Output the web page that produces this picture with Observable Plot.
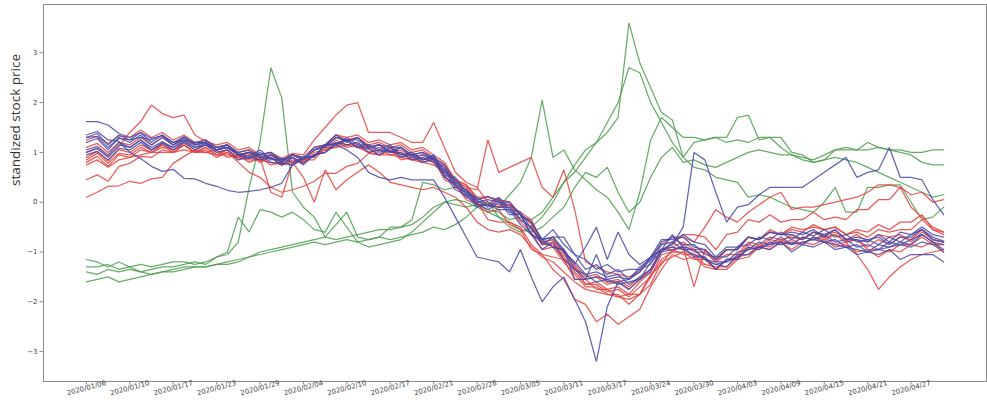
<!DOCTYPE html>
<html>
<head>
<meta charset="utf-8">
<script src="https://cdn.jsdelivr.net/npm/d3@7"></script>
<script src="https://cdn.jsdelivr.net/npm/@observablehq/plot@0.6"></script>
<style>
  html, body { margin: 0; padding: 0; background: #fff; }
  #chart svg { display: block; }
</style>
</head>
<body>
<div id="chart"></div>
<script>
// Tick labels: one every four trading days, starting at index 0
const tickDates = [
  "2020/01/06","2020/01/10","2020/01/17","2020/01/23","2020/01/29",
  "2020/02/04","2020/02/10","2020/02/17","2020/02/21","2020/02/28",
  "2020/03/05","2020/03/11","2020/03/17","2020/03/24","2020/03/30",
  "2020/04/03","2020/04/09","2020/04/15","2020/04/21","2020/04/27"
];
const tickEvery = 4;
const yTicks = [-3, -2, -1, 0, 1, 2, 3];

// Standardized prices, 80 trading days each
const blue1 = [
  1.62,1.62,1.55,1.38,1.3,1.4,1.28,1.33,
  1.2,1.32,1.18,1.25,1.1,1.15,0.98,0.92,
  1.05,0.88,0.82,0.95,0.86,1.05,1.12,1.3,
  1.22,1.3,1.1,1.16,1.02,1.1,0.95,1.0,
  0.9,0.75,0.4,0.25,0.05,0.12,0.0,-0.05,
  -0.25,-0.4,-0.75,-0.55,-0.85,-1.05,-1.35,-1.25,
  -1.45,-1.35,-1.55,-1.3,-1.15,-0.8,-0.7,-0.85,
  -0.85,-1.05,-1.1,-1.1,-0.9,-0.85,-0.7,-0.75,
  -0.6,-0.75,-0.6,-0.68,-0.55,-0.7,-0.65,-0.8,
  -0.75,-0.85,-0.7,-0.8,-0.65,-0.55,-0.7,-0.78
];
const blue2 = [
  1.35,1.42,1.25,1.22,1.0,0.88,0.72,0.62,
  0.66,0.48,0.47,0.38,0.32,0.24,0.2,0.22,
  0.25,0.3,0.38,0.75,0.9,0.92,1.15,1.18,
  1.25,1.1,1.08,0.95,1.1,0.9,0.95,0.8,
  0.88,0.5,0.38,0.1,-0.02,-0.15,0.0,-0.25,
  -0.25,-0.65,-0.8,-0.9,-0.95,-1.35,-1.45,-1.6,
  -1.55,-1.65,-1.6,-1.55,-1.2,-1.0,-0.8,-0.95,
  -0.95,-1.15,-1.2,-1.2,-1.0,-0.95,-0.8,-0.85,
  -0.7,-0.85,-0.7,-0.75,-0.65,-0.8,-0.75,-0.9,
  -0.85,-0.95,-0.8,-0.85,-0.75,-0.65,-0.8,-0.95
];
const blue3 = [
  1.3,1.38,1.15,1.35,1.25,1.4,1.2,1.35,
  1.15,1.3,1.15,1.2,1.05,1.1,0.95,1.0,
  0.9,0.95,0.85,0.9,0.75,0.95,1.0,1.15,
  1.05,0.9,0.6,0.5,0.45,0.5,0.45,0.45,
  0.45,0.1,-0.3,-0.7,-1.1,-1.15,-1.2,-1.4,
  -0.95,-1.5,-2.0,-1.7,-1.5,-1.95,-2.4,-3.2,
  -2.1,-1.6,-1.55,-1.4,-1.15,-0.95,-0.9,-0.95,
  -1.05,-1.15,-1.25,-1.2,-1.1,-0.95,-0.9,-0.85,
  -0.8,-0.85,-0.8,-0.75,-0.8,-0.85,-0.9,-0.95,
  -1.0,-0.95,-0.9,-0.85,-0.9,-0.8,-0.85,-1.0
];
const blue4 = [
  1.05,1.12,0.95,1.2,1.1,1.25,1.05,1.2,
  1.05,1.2,1.05,1.15,1.0,1.05,0.85,0.9,
  0.85,0.9,0.75,0.9,0.78,0.95,1.0,1.2,
  1.15,1.2,1.0,1.05,1.0,1.0,0.85,0.9,
  0.8,0.55,0.25,0.15,-0.1,-0.05,-0.1,-0.1,
  -0.35,-0.5,-0.85,-0.7,-1.0,-1.2,-1.45,-1.4,
  -1.5,-1.45,-1.65,-1.5,-1.35,-0.95,-0.85,-0.5,
  1.0,0.85,0.2,-0.4,-0.1,-0.05,0.15,0.3,
  0.3,0.3,0.3,0.45,0.6,0.75,0.9,0.5,
  0.6,0.65,1.1,0.5,0.5,0.45,0.05,-0.25
];
const blue5 = [
  0.95,1.02,0.85,1.08,1.05,1.2,1.05,1.18,
  1.1,1.25,1.1,1.15,1.05,1.1,0.95,0.88,
  0.95,0.8,0.78,0.75,0.9,0.92,1.15,1.15,
  1.3,1.15,1.15,1.05,1.15,0.95,1.0,0.85,
  0.95,0.6,0.5,0.2,0.1,-0.05,0.1,-0.15,
  -0.2,-0.55,-0.75,-0.7,-0.7,-1.05,-1.15,-1.35,
  -1.25,-1.4,-1.35,-1.35,-1.1,-0.95,-0.65,-0.9,
  -0.95,-1.15,-1.25,-1.3,-1.05,-1.05,-0.9,-0.95,
  -0.8,-1.0,-0.85,-0.9,-0.8,-0.95,-0.9,-1.05,
  -1.0,-1.05,-0.95,-1.15,-1.05,-1.05,-1.05,-1.2
];
const blue6 = [
  1.2,1.28,1.05,1.3,1.2,1.35,1.15,1.3,
  1.15,1.3,1.15,1.2,1.1,1.15,0.95,1.0,
  0.95,1.0,0.85,0.95,0.85,1.05,1.1,1.3,
  1.25,1.25,1.1,1.15,1.1,1.1,0.95,1.0,
  0.85,0.7,0.35,0.25,0.0,0.05,0.0,0.0,
  -0.25,-0.4,-0.75,-0.7,-0.95,-1.25,-0.9,-0.5,
  -1.15,-0.6,-1.05,-1.25,-1.1,-0.75,-0.75,-0.7,
  -0.9,-0.95,-1.15,-0.95,-0.95,-0.7,-0.75,-0.6,
  -0.65,-0.6,-0.65,-0.55,-0.7,-0.55,-0.75,-0.75,
  -0.8,-0.65,-0.8,-0.6,-0.65,-0.5,-0.65,-0.7
];
const blue7 = [
  1.0,1.08,0.9,1.15,1.1,1.25,1.1,1.22,
  1.1,1.22,1.1,1.18,1.05,1.1,0.95,0.88,
  1.0,0.85,0.88,0.8,0.9,0.9,1.15,1.15,
  1.25,1.1,1.15,1.0,1.1,0.95,0.95,0.85,
  0.9,0.55,0.45,0.15,0.05,-0.1,0.05,-0.2,
  -0.25,-0.65,-0.75,-0.9,-0.95,-1.55,-1.55,-1.05,
  -1.6,-1.6,-1.75,-1.55,-1.4,-1.0,-0.95,-0.9,
  -1.1,-1.1,-1.35,-1.15,-1.15,-0.9,-0.95,-0.8,
  -0.85,-0.8,-0.85,-0.7,-0.8,-0.75,-0.9,-0.85,
  -1.0,-0.85,-0.9,-0.8,-0.85,-0.65,-0.8,-0.85
];
const blue8 = [
  1.3,1.32,1.1,1.28,1.25,1.3,1.25,1.35,
  1.2,1.25,1.2,1.2,1.05,1.15,1.0,1.05,
  0.9,0.95,0.8,0.95,0.9,1.1,1.15,1.35,
  1.2,1.3,1.1,1.15,1.0,1.1,0.9,0.95,
  0.85,0.65,0.3,0.2,-0.05,-0.05,-0.15,-0.15,
  -0.45,-0.65,-0.95,-0.8,-1.15,-1.35,-1.55,-1.5,
  -1.55,-1.5,-1.55,-1.35,-1.25,-0.85,-0.8,-0.65,
  -0.8,-0.85,-1.1,-0.9,-0.9,-0.7,-0.75,-0.6,
  -0.65,-0.65,-0.75,-0.6,-0.65,-0.55,-0.75,-0.7,
  -0.75,-0.7,-0.85,-0.7,-0.7,-0.55,-0.75,-0.8
];

const red1 = [
  0.1,0.2,0.32,0.33,0.42,0.38,0.47,0.5,
  0.78,0.92,1.05,1.0,1.05,0.9,0.95,0.8,
  0.9,0.75,0.8,0.75,0.85,0.85,1.1,1.1,
  1.25,1.1,1.1,0.95,1.05,0.85,0.9,0.8,
  0.85,0.45,0.35,0.05,-0.05,-0.2,-0.15,-0.45,
  -0.55,-0.95,-1.05,-1.1,-1.15,-1.55,-1.55,-1.75,
  -1.75,-1.9,-1.85,-1.85,-1.45,-1.25,-0.95,-1.05,
  -1.05,-1.25,-1.3,-1.3,-1.1,-1.05,-0.85,-0.9,
  -0.75,-0.85,-0.7,-0.75,-0.7,-0.85,-0.8,-1.05,
  -1.35,-1.75,-1.5,-1.3,-1.15,-1.05,-1.0,-0.95
];
const red2 = [
  0.45,0.55,0.42,0.72,0.78,0.92,0.9,1.05,
  1.0,1.15,1.0,1.05,0.9,1.0,0.8,0.6,
  0.5,0.3,0.2,0.25,0.32,0.42,0.58,0.58,
  0.72,0.78,0.98,0.95,1.05,0.9,1.0,0.85,
  0.9,0.5,0.35,0.1,0.0,-0.35,-0.4,-0.4,
  -0.5,-0.85,-1.05,-1.35,-1.55,-1.95,-2.05,-2.4,
  -2.25,-2.45,-2.3,-2.15,-1.7,-1.35,-1.05,-1.15,
  -1.1,-1.3,-1.35,-1.35,-1.15,-1.1,-0.9,-0.95,
  -0.8,-0.95,-0.8,-0.85,-0.75,-0.9,-0.85,-1.0,
  -0.95,-1.1,-0.95,-1.0,-0.85,-0.9,-0.8,-1.0
];
const red3 = [
  1.0,1.08,0.92,1.12,1.4,1.62,1.95,1.78,
  1.7,1.75,1.35,1.22,1.15,1.2,1.05,1.1,
  0.95,1.0,0.82,0.95,0.85,1.05,1.15,1.35,
  1.3,1.35,1.2,1.25,1.15,1.2,1.05,1.1,
  0.95,0.8,0.45,0.35,0.05,0.1,0.05,0.0,
  -0.25,-0.4,-0.8,-0.75,-1.05,-1.3,-1.65,-1.65,
  -1.8,-1.75,-1.9,-1.7,-1.5,-1.05,-1.0,-0.85,
  -1.0,-1.0,-1.2,-0.95,-0.95,-0.7,-0.75,-0.55,
  -0.65,-0.5,-0.55,-0.5,-0.55,-0.5,-0.65,-0.6,
  -0.7,-0.55,-0.6,-0.55,-0.55,-0.35,-0.55,-0.6
];
const red4 = [
  0.8,0.92,0.72,0.95,0.9,1.05,1.0,1.1,
  1.05,1.15,1.0,1.1,0.95,1.05,0.9,1.0,
  0.9,0.2,0.1,0.8,0.5,0.0,0.65,0.25,
  0.45,0.6,0.75,0.6,0.4,0.35,0.3,0.25,
  0.3,0.2,0.1,-0.1,-0.4,-0.55,-0.6,-0.55,
  -0.65,-0.9,-1.1,-1.2,-1.4,-1.6,-1.75,-1.8,
  -1.85,-1.9,-1.95,-1.85,-1.5,-1.15,-1.0,-1.0,
  -1.05,-1.1,-1.35,-1.15,-1.1,-0.85,-0.9,-0.75,
  -0.8,-0.65,-0.75,-0.6,-0.65,-0.6,-0.75,-0.65,
  -0.8,-0.65,-0.7,-0.65,-0.8,-0.6,-0.75,-0.8
];
const red5 = [
  1.25,1.32,1.18,1.33,1.3,1.45,1.3,1.4,
  1.25,1.35,1.2,1.25,1.1,1.15,1.0,1.05,
  0.95,1.0,0.88,0.98,0.95,1.25,1.5,1.75,
  1.95,2.0,1.4,1.4,1.4,1.3,1.2,1.2,
  1.6,1.1,0.6,0.4,0.3,0.0,-0.1,-0.05,
  -0.2,-0.35,-0.8,-0.75,-1.0,-1.25,-1.5,-1.45,
  -1.6,-1.55,-1.7,-1.5,-1.35,-0.95,-0.9,-0.8,
  -0.95,-0.95,-1.15,-0.95,-0.95,-0.7,-0.75,-0.6,
  -0.65,-0.55,-0.6,-0.45,-0.55,-0.5,-0.65,-0.55,
  -0.6,-0.45,-0.55,-0.4,-0.4,-0.25,-0.55,-0.65
];
const red6 = [
  0.75,0.85,0.7,0.85,0.9,0.95,1.0,1.0,
  1.0,1.05,1.0,1.0,0.95,0.95,0.9,0.85,
  0.85,0.8,0.75,0.8,0.85,0.95,1.05,1.1,
  1.15,1.1,1.0,0.95,0.95,0.9,0.85,0.8,
  0.75,0.6,0.45,0.3,0.25,1.25,0.6,0.7,
  0.8,0.9,0.3,0.1,0.65,-0.15,-1.2,-1.3,
  -1.4,-1.45,-1.5,-1.4,-1.1,-0.85,-0.7,-0.7,
  -0.8,-0.5,-0.15,-0.3,-0.4,-0.2,-0.05,0.1,
  0.2,-0.15,-0.1,-0.1,-0.05,0.0,0.05,0.1,
  0.2,0.35,0.35,0.3,-0.1,-0.3,-0.5,-0.6
];
const red7 = [
  0.9,1.02,0.82,1.05,1.0,1.15,1.05,1.15,
  1.05,1.2,1.05,1.15,1.0,1.05,0.9,0.95,
  0.85,0.9,0.75,0.9,0.8,1.0,1.05,1.25,
  1.15,1.2,1.05,1.1,1.0,1.05,0.9,0.95,
  0.85,0.7,0.4,0.3,0.0,0.0,-0.05,-0.05,
  -0.35,-0.5,-0.85,-0.8,-1.1,-1.4,-1.65,-1.6,
  -1.75,-1.7,-1.85,-1.6,-1.4,-0.95,-0.95,-0.9,
  -1.7,-0.95,-1.2,-1.05,-1.05,-0.8,-0.85,-0.7,
  -0.75,-0.7,-0.75,-0.6,-0.7,-0.65,-0.8,-0.75,
  -0.9,-0.75,-0.85,-0.7,-0.75,-0.55,-0.75,-0.8
];
const red8 = [
  1.1,1.18,1.0,1.2,1.15,1.3,1.15,1.3,
  1.15,1.25,1.15,1.2,1.05,1.1,0.95,1.0,
  0.85,0.95,0.8,0.95,0.9,1.1,1.15,1.35,
  1.25,1.3,1.15,1.2,1.1,1.15,1.0,1.05,
  0.9,0.75,0.45,0.35,0.1,0.1,0.05,0.0,
  -0.25,-0.45,-0.85,-0.85,-1.15,-1.3,-1.55,-1.5,
  -1.65,-1.6,-1.75,-1.55,-1.35,-0.95,-0.85,-0.65,
  -0.65,-0.7,-0.95,-0.65,-0.6,-0.35,-0.4,-0.25,
  -0.4,-0.35,-0.35,-0.2,-0.35,-0.3,-0.35,-0.15,
  -0.15,0.05,0.05,0.3,0.15,0.2,0.0,0.05
];
const red9 = [
  0.85,0.98,0.78,0.98,0.95,1.1,1.0,1.15,
  1.0,1.15,1.0,1.1,0.95,1.0,0.85,0.95,
  0.8,0.9,0.75,0.85,0.8,0.95,1.0,1.2,
  1.1,1.15,1.0,1.05,0.95,1.0,0.85,0.9,
  0.8,0.65,0.3,0.25,-0.05,-0.05,-0.1,-0.1,
  -0.4,-0.6,-0.95,-0.9,-1.2,-1.45,-1.7,-1.7,
  -1.85,-1.85,-2.05,-1.85,-1.65,-1.2,-1.1,-1.0,
  -1.15,-1.15,-1.35,-1.15,-1.15,-0.9,-0.95,-0.8,
  -0.85,-0.75,-0.85,-0.7,-0.75,-0.65,-0.8,-0.75,
  -0.95,-0.95,-1.0,-0.85,-0.85,-0.7,-0.85,-0.85
];

const green1 = [
  -1.3,-1.3,-1.25,-1.35,-1.3,-1.4,-1.35,-1.3,
  -1.3,-1.25,-1.2,-1.25,-1.1,-1.05,-0.8,0.3,
  1.2,2.7,2.1,0.2,-0.1,-0.3,-0.7,-0.45,
  -0.2,-0.7,-0.75,-0.7,-0.5,-0.5,-0.35,0.4,
  0.35,0.25,0.3,0.2,0.0,-0.05,-0.1,0.15,
  0.4,0.9,2.05,0.9,1.05,0.65,0.45,0.25,
  0.1,-0.2,-0.55,0.2,1.25,1.7,1.5,1.3,
  1.3,1.25,1.3,1.3,1.7,1.75,1.25,1.3,
  1.3,1.0,0.95,0.8,0.85,1.05,1.05,1.05,
  1.2,1.1,1.05,1.0,0.95,0.8,0.75,0.75
];
const green2 = [
  -1.15,-1.2,-1.3,-1.2,-1.3,-1.25,-1.3,-1.25,
  -1.2,-1.2,-1.25,-1.2,-1.1,-1.0,-0.3,-0.6,
  -0.15,-0.2,-0.3,-0.2,-0.35,-0.55,-0.6,-0.2,
  -0.5,-0.8,-0.9,-0.85,-0.8,-0.75,-0.6,-0.4,
  -0.2,0.0,-0.05,-0.1,-0.05,-0.15,-0.2,-0.35,
  -0.3,-0.35,-0.2,0.1,0.4,0.75,1.05,1.2,
  1.4,1.7,3.6,2.8,2.3,1.8,1.65,0.9,
  1.2,1.25,1.3,1.2,1.25,1.2,1.3,1.3,
  1.1,0.95,0.9,0.85,0.95,1.05,1.1,1.05,
  1.05,1.1,1.05,1.05,1.0,1.0,1.05,1.05
];
const green3 = [
  -1.4,-1.45,-1.35,-1.4,-1.35,-1.4,-1.45,-1.4,
  -1.35,-1.3,-1.3,-1.3,-1.25,-1.2,-1.15,-1.1,
  -1.05,-1.0,-0.95,-0.9,-0.85,-0.8,-0.85,-0.8,
  -0.75,-0.8,-0.75,-0.7,-0.75,-0.7,-0.65,-0.6,
  -0.5,-0.55,-0.45,-0.3,-0.1,0.0,-0.3,-0.5,
  -0.6,-0.5,-0.3,0.0,0.4,0.6,0.9,1.2,
  1.6,2.0,2.7,2.6,2.0,1.6,1.2,0.9,
  0.7,0.65,0.5,0.45,0.4,0.1,0.15,0.1,
  0.0,-0.1,-0.15,-0.2,0.0,0.3,-0.2,-0.2,
  0.3,0.3,0.35,0.35,0.0,-0.35,-0.3,-0.1
];
const green4 = [
  -1.6,-1.55,-1.5,-1.6,-1.55,-1.5,-1.45,-1.4,
  -1.4,-1.35,-1.3,-1.3,-1.25,-1.25,-1.2,-1.1,
  -1.0,-0.95,-0.9,-0.85,-0.8,-0.75,-0.7,-0.75,
  -0.7,-0.65,-0.6,-0.55,-0.55,-0.5,-0.45,-0.3,
  -0.1,0.0,0.05,0.0,-0.1,-0.2,-0.3,-0.4,
  -0.55,-0.6,-0.5,-0.3,-0.1,0.3,0.6,0.5,
  0.7,0.2,-0.2,0.0,0.5,0.9,1.1,0.8,
  0.85,0.75,0.7,0.8,0.9,1.0,1.05,1.0,
  0.95,0.95,0.85,0.8,0.85,0.9,0.85,0.8,
  0.7,0.6,0.5,0.4,0.3,0.2,0.1,0.15
];

const greenSeries = {green1, green2, green3, green4};
const redSeries = {red1, red2, red3, red4, red5, red6, red7, red8, red9};
const blueSeries = {blue1, blue2, blue3, blue4, blue5, blue6, blue7, blue8};

const nDays = 80;
function toRows(group) {
  const rows = [];
  for (const [name, values] of Object.entries(group)) {
    if (values.length !== nDays) throw new Error(`${name} has ${values.length} values`);
    values.forEach((v, i) => rows.push({name, i, v}));
  }
  return rows;
}

const tickIndex = tickDates.map((_, k) => k * tickEvery);
const lineStyle = {x: "i", y: "v", z: "name", strokeWidth: 1.25, strokeOpacity: 0.85, strokeLinejoin: "miter"};

const chart = Plot.plot({
  width: 987,
  height: 404,
  marginLeft: 43,
  marginRight: 1,
  marginTop: 4,
  marginBottom: 23,
  style: {fontFamily: "DejaVu Sans, sans-serif", background: "#fff"},
  x: {type: "linear", domain: [-3.95, 82.95]},
  y: {domain: [-3.6, 3.97]},
  marks: [
    Plot.line(toRows(greenSeries), {...lineStyle, stroke: "#4e9e4e"}),
    Plot.line(toRows(redSeries), {...lineStyle, stroke: "#e5403d"}),
    Plot.line(toRows(blueSeries), {...lineStyle, stroke: "#4848a8"}),
    Plot.frame({stroke: "#8a8a8a", strokeWidth: 1}),
    Plot.axisY({
      ticks: yTicks,
      tickFormat: d3.format("d"),
      tickSize: 3.5,
      tickPadding: 2.5,
      fontSize: 7,
      fill: "#444",
      stroke: "#8a8a8a",
      label: null
    }),
    Plot.axisX({
      ticks: tickIndex,
      tickFormat: (d) => tickDates[d / tickEvery],
      tickSize: 3.5,
      tickPadding: 3,
      tickRotate: -15,
      textAnchor: "middle",
      fontSize: 7,
      fill: "#444",
      stroke: "#8a8a8a",
      label: null
    }),
    Plot.text(["standized stock price"], {
      frameAnchor: "left",
      rotate: -90,
      dx: -28,
      dy: -7,
      fontSize: 13.5,
      fill: "#333",
      fontFamily: "Open Sans, DejaVu Sans, sans-serif"
    })
  ]
});

document.getElementById("chart").appendChild(chart);
</script>
</body>
</html>
